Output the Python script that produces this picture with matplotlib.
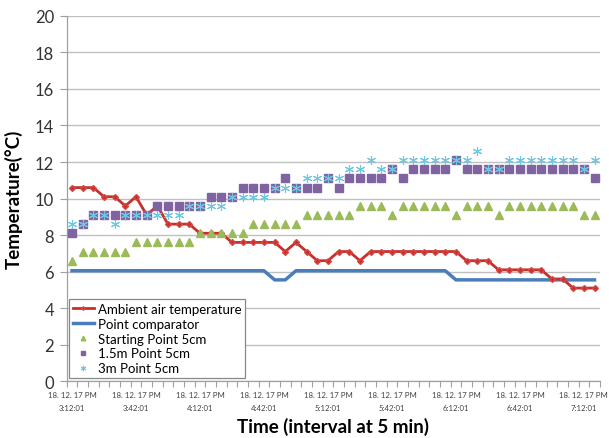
import matplotlib
matplotlib.use('Agg')
import matplotlib.pyplot as plt
from matplotlib.ticker import MultipleLocator, FixedLocator

plt.rcParams['font.family'] = ['Lato', 'DejaVu Sans']

# ── data (5 min interval, 50 samples) ───────────────────────────────────────
ambient = [10.6, 10.6, 10.6, 10.1, 10.1, 9.6, 10.1, 9.1, 9.6, 8.6,
           8.6, 8.6, 8.1, 8.1, 8.1, 7.6, 7.6, 7.6, 7.6, 7.6,
           7.1, 7.6, 7.1, 6.6, 6.6, 7.1, 7.1, 6.6, 7.1, 7.1,
           7.1, 7.1, 7.1, 7.1, 7.1, 7.1, 7.1, 6.6, 6.6, 6.6,
           6.1, 6.1, 6.1, 6.1, 6.1, 5.6, 5.6, 5.1, 5.1, 5.1]
comparator = [6.05] * 19 + [5.55, 5.55] + [6.05] * 15 + [5.55] * 14
start_5cm = [6.6, 7.1, 7.1, 7.1, 7.1, 7.1, 7.6, 7.6, 7.6, 7.6,
             7.6, 7.6, 8.1, 8.1, 8.1, 8.1, 8.1, 8.6, 8.6, 8.6,
             8.6, 8.6, 9.1, 9.1, 9.1, 9.1, 9.1, 9.6, 9.6, 9.6,
             9.1, 9.6, 9.6, 9.6, 9.6, 9.6, 9.1, 9.6, 9.6, 9.6,
             9.1, 9.6, 9.6, 9.6, 9.6, 9.6, 9.6, 9.6, 9.1, 9.1]
p15m_5cm = [8.1, 8.6, 9.1, 9.1, 9.1, 9.1, 9.1, 9.1, 9.6, 9.6,
            9.6, 9.6, 9.6, 10.1, 10.1, 10.1, 10.6, 10.6, 10.6, 10.6,
            11.1, 10.6, 10.6, 10.6, 11.1, 10.6, 11.1, 11.1, 11.1, 11.1,
            11.6, 11.1, 11.6, 11.6, 11.6, 11.6, 12.1, 11.6, 11.6, 11.6,
            11.6, 11.6, 11.6, 11.6, 11.6, 11.6, 11.6, 11.6, 11.6, 11.1]
p3m_5cm = [8.6, 8.6, 9.1, 9.1, 8.6, 9.1, 9.1, 9.1, 9.1, 9.1,
           9.1, 9.6, 9.6, 9.6, 9.6, 10.1, 10.1, 10.1, 10.1, 10.6,
           10.6, 10.6, 11.1, 11.1, 11.1, 11.1, 11.6, 11.6, 12.1, 11.6,
           11.6, 12.1, 12.1, 12.1, 12.1, 12.1, 12.1, 12.1, 12.6, 11.6,
           11.6, 12.1, 12.1, 12.1, 12.1, 12.1, 12.1, 12.1, 11.6, 12.1]
tick_times = ['3:12:01', '3:42:01', '4:12:01', '4:42:01', '5:12:01',
              '5:42:01', '6:12:01', '6:42:01', '7:12:01']
date_prefix = '18. 12. 17 PM'

x = list(range(len(ambient)))

fig = plt.figure(figsize=(6.09, 4.39), dpi=100)
ax = fig.add_axes([0.1095, 0.1292, 0.8755, 0.8325])

ax.plot(x, ambient, color='#C8302C', lw=2, marker='D', ms=3,
        mec='#D24A46', mfc='#C8302C', label='Ambient air temperature', zorder=5)
ax.plot(x, comparator, color='#4A7EBB', lw=2.5, label='Point comparator', zorder=4)
ax.plot(x, start_5cm, ls='none', marker='^', ms=5.5, color='#9BBB59',
        label='Starting Point 5cm', zorder=6)
ax.plot(x, p15m_5cm, ls='none', marker='s', ms=5.5, color='#8064A2',
        label='1.5m Point 5cm', zorder=6)
ax.plot(x, p3m_5cm, ls='none', marker=(6, 2, 0), ms=6.5, mew=0.8,
        color='#6EC8E2', label='3m Point 5cm', zorder=7)

ax.set_xlim(-0.5, len(x) - 0.5)
ax.set_ylim(0, 20)
ax.yaxis.set_major_locator(MultipleLocator(2))
ax.grid(axis='y', color='#C0C0C0', lw=1)
ax.set_axisbelow(True)

ax.set_xticks(x[::6])
ax.set_xticklabels([f'{date_prefix}\n{t}' for t in tick_times],
                   fontsize=5.6, color='#404040', linespacing=2.0)
ax.xaxis.set_minor_locator(FixedLocator([i - 0.5 for i in range(len(x) + 1)]))
ax.tick_params(axis='x', which='major', length=0, pad=7)
ax.tick_params(axis='x', which='minor', length=4, color='#A0A0A0', width=0.8)
ax.tick_params(axis='y', length=5, color='#A0A0A0', labelsize=12,
               labelcolor='#333333', pad=4)

for side in ['top', 'right']:
    ax.spines[side].set_visible(False)
for side in ['left', 'bottom']:
    ax.spines[side].set_color('#A0A0A0')
    ax.spines[side].set_linewidth(0.9)

ax.set_ylabel('Temperature(°C)', fontsize=13.5, fontweight='bold', labelpad=9)
ax.set_xlabel('Time (interval at 5 min)', fontsize=13.5, fontweight='bold',
              labelpad=4)

leg = ax.legend(loc='lower left', bbox_to_anchor=(0.004, 0.008), borderaxespad=0,
                fontsize=9.5, fancybox=False, framealpha=1, edgecolor='#888888',
                handlelength=1.6, handletextpad=0.3, labelspacing=0.22,
                borderpad=0.3, markerscale=0.6)
leg.get_frame().set_linewidth(0.9)

fig.savefig('out.png', dpi=100)
